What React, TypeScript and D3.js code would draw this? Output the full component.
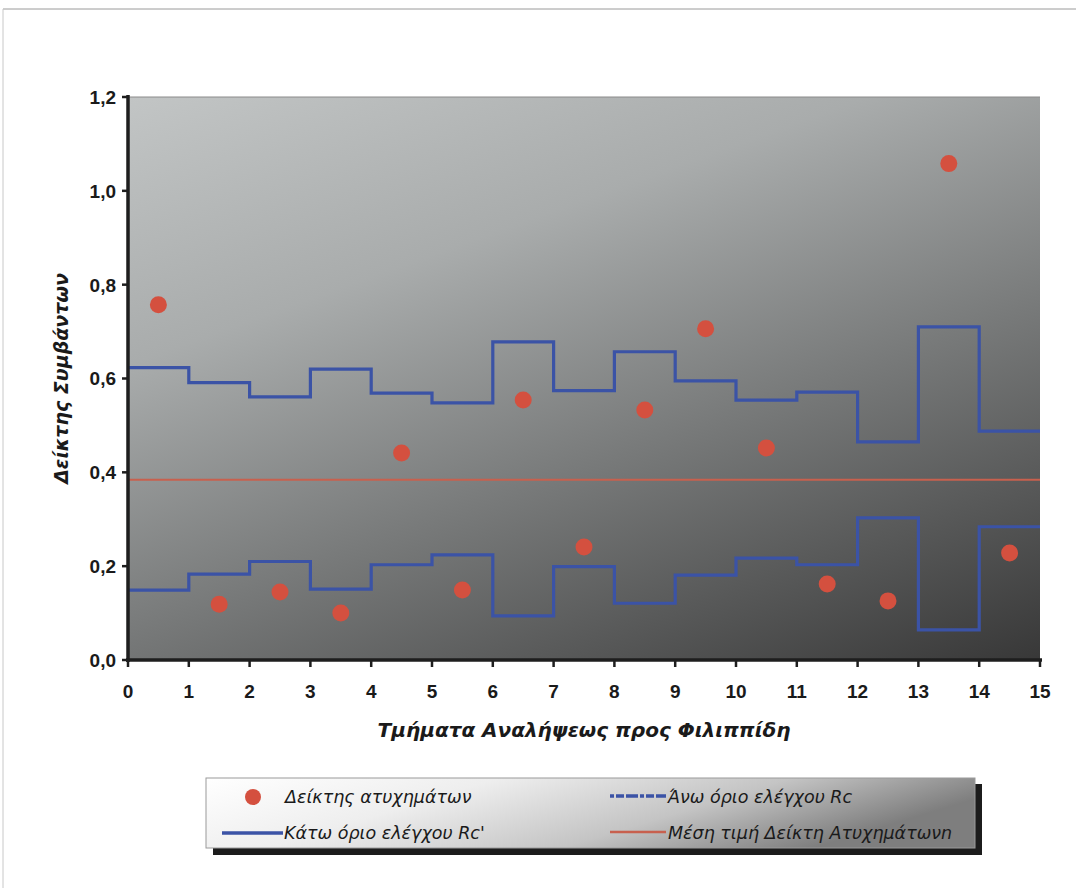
import React from "react";
import * as d3 from "d3";

const segments = [0, 1, 2, 3, 4, 5, 6, 7, 8, 9, 10, 11, 12, 13, 14];
const accidentIndex = [0.757, 0.119, 0.145, 0.1, 0.441, 0.149, 0.554, 0.241, 0.533, 0.706, 0.452, 0.162, 0.126, 1.058, 0.228];
const upperLimit = [0.623, 0.591, 0.561, 0.62, 0.569, 0.548, 0.678, 0.574, 0.657, 0.595, 0.554, 0.571, 0.465, 0.71, 0.488];
const lowerLimit = [0.149, 0.183, 0.21, 0.151, 0.203, 0.224, 0.094, 0.199, 0.121, 0.181, 0.217, 0.203, 0.303, 0.064, 0.284];
const meanValue = 0.384;
const xTicks = [0, 1, 2, 3, 4, 5, 6, 7, 8, 9, 10, 11, 12, 13, 14, 15];
const yTicks = [0, 0.2, 0.4, 0.6, 0.8, 1.0, 1.2];
const yTitle = "Δείκτης Συμβάντων";
const xTitle = "Τμήματα Αναλήψεως προς Φιλιππίδη";
const legendLabels = ["Δείκτης ατυχημάτων", "Άνω όριο ελέγχου Rc", "Κάτω όριο ελέγχου Rc'", "Μέση τιμή Δείκτη Ατυχημάτωνn"];

const W = 1076, H = 888;
const L = 128, R = 1040, T = 97, B = 660;

export default function App() {
  const x = d3.scaleLinear().domain([0, 15]).range([L, R]);
  const y = d3.scaleLinear().domain([0, 1.2]).range([B, T]);
  const step = d3.line<[number, number]>().x(d => x(d[0])).y(d => y(d[1])).curve(d3.curveStepAfter);
  const mk = (arr: number[]) => {
    const pts: [number, number][] = segments.map((s, i) => [s, arr[i]]);
    pts.push([15, arr[arr.length - 1]]);
    return step(pts) || "";
  };
  const blue = "#3b53a6";
  const red = "#d4503f";
  const font = "Arial, 'Liberation Sans', sans-serif";
  const wide = "'DejaVu Sans', Verdana, sans-serif";
  const fmt = (v: number) => v.toFixed(1).replace(".", ",");

  const lgX = 206, lgY = 778, lgW = 769, lgH = 70;
  return (
    <svg width={W} height={H} style={{ position: "absolute", left: 0, top: 0, background: "#fff" }} fontFamily={font}>
      <defs>
        <linearGradient id="plotBg" x1="0" y1="0" x2="0.69" y2="1.18">
          <stop offset="0" stopColor="#c2c5c5" />
          <stop offset="0.3" stopColor="#a9acac" />
          <stop offset="0.6" stopColor="#787a7a" />
          <stop offset="1" stopColor="#383838" />
        </linearGradient>
        <linearGradient id="legBg" x1="0" y1="0" x2="1" y2="0.3">
          <stop offset="0" stopColor="#ffffff" />
          <stop offset="0.35" stopColor="#eeeeee" />
          <stop offset="0.7" stopColor="#c4c4c4" />
          <stop offset="1" stopColor="#7e7e7e" />
        </linearGradient>
      </defs>
      <rect x={0} y={0} width={W} height={H} fill="#fff" />
      <line x1={3} y1={9} x2={W} y2={9} stroke="#9a9a9a" strokeWidth={1} />
      <line x1={3} y1={9} x2={3} y2={H} stroke="#c8c8c8" strokeWidth={1} />

      <rect x={L} y={T} width={R - L} height={B - T} fill="url(#plotBg)" />
      <line x1={L} y1={T} x2={R} y2={T} stroke="#8a8a8a" strokeWidth={1} />

      <line x1={L} x2={R} y1={y(meanValue)} y2={y(meanValue)} stroke="#c8604e" strokeWidth={2} />
      <path d={mk(upperLimit)} fill="none" stroke={blue} strokeWidth={3.2} />
      <path d={mk(lowerLimit)} fill="none" stroke={blue} strokeWidth={3.2} />
      {accidentIndex.map((v, i) => (
        <circle key={i} cx={x(segments[i] + 0.5)} cy={y(v)} r={8.5} fill={red} />
      ))}

      {/* axes */}
      <line x1={L} y1={T - 2} x2={L} y2={B + 2} stroke="#1e1e1e" strokeWidth={3.5} />
      <line x1={L - 2} y1={B} x2={R + 2} y2={B} stroke="#1e1e1e" strokeWidth={3.5} />
      {yTicks.map(t => (
        <g key={t}>
          <line x1={L - 6} x2={L} y1={y(t)} y2={y(t)} stroke="#1e1e1e" strokeWidth={2.5} />
          <text x={L - 12} y={y(t)} dy="0.36em" textAnchor="end" fontSize={19} fontWeight="bold" fill="#1a1a1a">{fmt(t)}</text>
        </g>
      ))}
      {xTicks.map(t => (
        <g key={t}>
          <line x1={x(t)} x2={x(t)} y1={B} y2={B + 7} stroke="#1e1e1e" strokeWidth={2.5} />
          <text x={x(t)} y={698} textAnchor="middle" fontSize={19} fontWeight="bold" fill="#1a1a1a">{t}</text>
        </g>
      ))}
      <text transform={`translate(68,${(T + B) / 2}) rotate(-90)`} textAnchor="middle" fontFamily={wide} fontSize={19} fontWeight="bold" fontStyle="italic" fill="#1a1a1a">{yTitle}</text>
      <text x={(L + R) / 2} y={737} textAnchor="middle" fontFamily={wide} fontSize={20} fontWeight="bold" fontStyle="italic" fill="#1a1a1a">{xTitle}</text>

      {/* legend */}
      <rect x={lgX + 7} y={lgY + 6} width={lgW} height={lgH + 1} fill="#1c1c1c" />
      <rect x={lgX} y={lgY} width={lgW} height={lgH} fill="url(#legBg)" stroke="#9a9a9a" strokeWidth={1} />
      <circle cx={253} cy={797} r={8} fill={red} />
      <text x={285} y={803} fontFamily={wide} fontSize={17.5} fontStyle="italic" fill="#1a1a1a">{legendLabels[0]}</text>
      <line x1={610} x2={666} y1={796} y2={796} stroke={blue} strokeWidth={3.5} strokeDasharray="4,2,8,2,12,2" />
      <text x={668} y={803} fontFamily={wide} fontSize={17.5} fontStyle="italic" fill="#1a1a1a">{legendLabels[1]}</text>
      <line x1={222} x2={283} y1={833} y2={833} stroke={blue} strokeWidth={3.5} />
      <text x={284} y={839} fontFamily={wide} fontSize={17.5} fontStyle="italic" fill="#1a1a1a">{legendLabels[2]}</text>
      <line x1={610} x2={666} y1={832} y2={832} stroke="#c8604e" strokeWidth={2.5} />
      <text x={668} y={839} fontFamily={wide} fontSize={17.5} fontStyle="italic" fill="#1a1a1a">{legendLabels[3]}</text>
    </svg>
  );
}
